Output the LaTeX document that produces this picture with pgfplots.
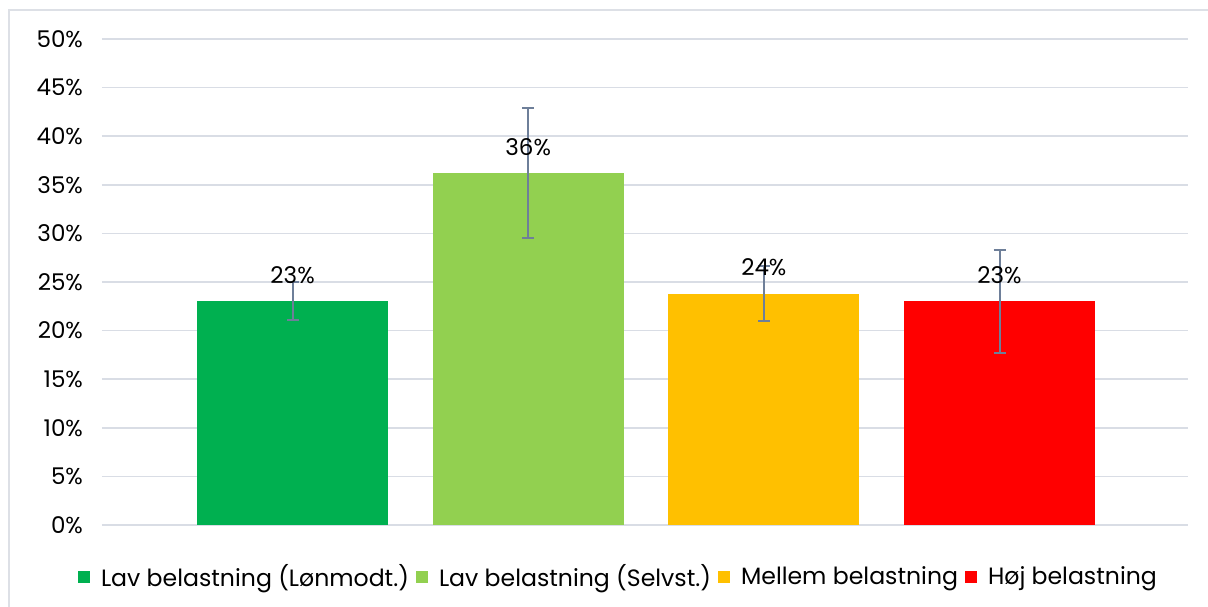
\documentclass[border=0pt]{standalone}
\usepackage{fontspec}
\setmainfont{Poppins}
\usepackage{pgfplots}
\pgfplotsset{compat=1.18}

\definecolor{cGreen}{HTML}{00B050}
\definecolor{cLight}{HTML}{92D050}
\definecolor{cAmber}{HTML}{FFC000}
\definecolor{cRed}{HTML}{FF0000}
\definecolor{gridc}{HTML}{D9DDE5}
\definecolor{errc}{HTML}{6E7F99}
\definecolor{framec}{HTML}{DDE0E6}

\begin{document}
\begin{tikzpicture}
\begin{axis}[
    scale only axis,
    width=543pt, height=243pt,
    ybar, bar width=0.811,
    xmin=-0.809, xmax=3.80,
    ymin=0, ymax=50,
    ytick={0,5,...,50},
    yticklabel={\pgfmathprintnumber{\tick}\%},
    xtick=\empty,
    ymajorgrids=true,
    grid style={gridc, line width=0.75pt},
    axis line style={draw=none},
    major tick length=0pt,
    clip=false,
    /pgf/number format/assume math mode=true,
    tick label style={font=\fontsize{11.5}{13}\selectfont},
    yticklabel style={xshift=-6pt},
    nodes near coords={\pgfmathprintnumber[fixed,precision=0]{\pgfplotspointmeta}\%},
    every node near coord/.append style={font=\fontsize{11.5}{13}\selectfont, black, anchor=center, yshift=13pt},
    error bars/y dir=both,
    error bars/y explicit,
    error bars/error bar style={errc, line width=1pt},
    error bars/error mark options={rotate=90, mark size=3pt, errc, line width=1pt},
    legend style={at={(0.4765,-0.107)}, anchor=center, draw=none, fill=none,
        legend columns=-1, font=\fontsize{11.8}{13}\selectfont,
        /tikz/every even column/.append style={column sep=1.5pt},
        /tikz/every odd column/.append style={column sep=3.5pt}},
    legend image code/.code={\fill[#1] (0pt,-3pt) rectangle (6pt,3pt);},
]
\addplot[fill=cGreen, draw=none, bar shift=0pt] coordinates {(0,23.0) +- (0,1.95)};
\addplot[fill=cLight, draw=none, bar shift=0pt] coordinates {(1,36.2) +- (0,6.7)};
\addplot[fill=cAmber, draw=none, bar shift=0pt] coordinates {(2,23.8) +- (0,2.8)};
\addplot[fill=cRed, draw=none, bar shift=0pt] coordinates {(3,23.0) +- (0,5.3)};
\legend{Lav belastning (Lønmodt.), Lav belastning (Selvst.), Mellem belastning, Høj belastning}
\coordinate (bbl) at (rel axis cs:-0.0939,-0.1687);
\coordinate (btr) at (rel axis cs:1.0184,1.0802);
\coordinate (fbl) at (rel axis cs:-0.0856,-0.25);
\coordinate (ftr) at (rel axis cs:1.05,1.0597);
\end{axis}
\pgfresetboundingbox
\useasboundingbox (bbl) rectangle (btr);
\begin{scope}
\clip (bbl) rectangle (btr);
\draw[framec, line width=0.75pt] (fbl) rectangle (ftr);
\end{scope}
\end{tikzpicture}
\end{document}
